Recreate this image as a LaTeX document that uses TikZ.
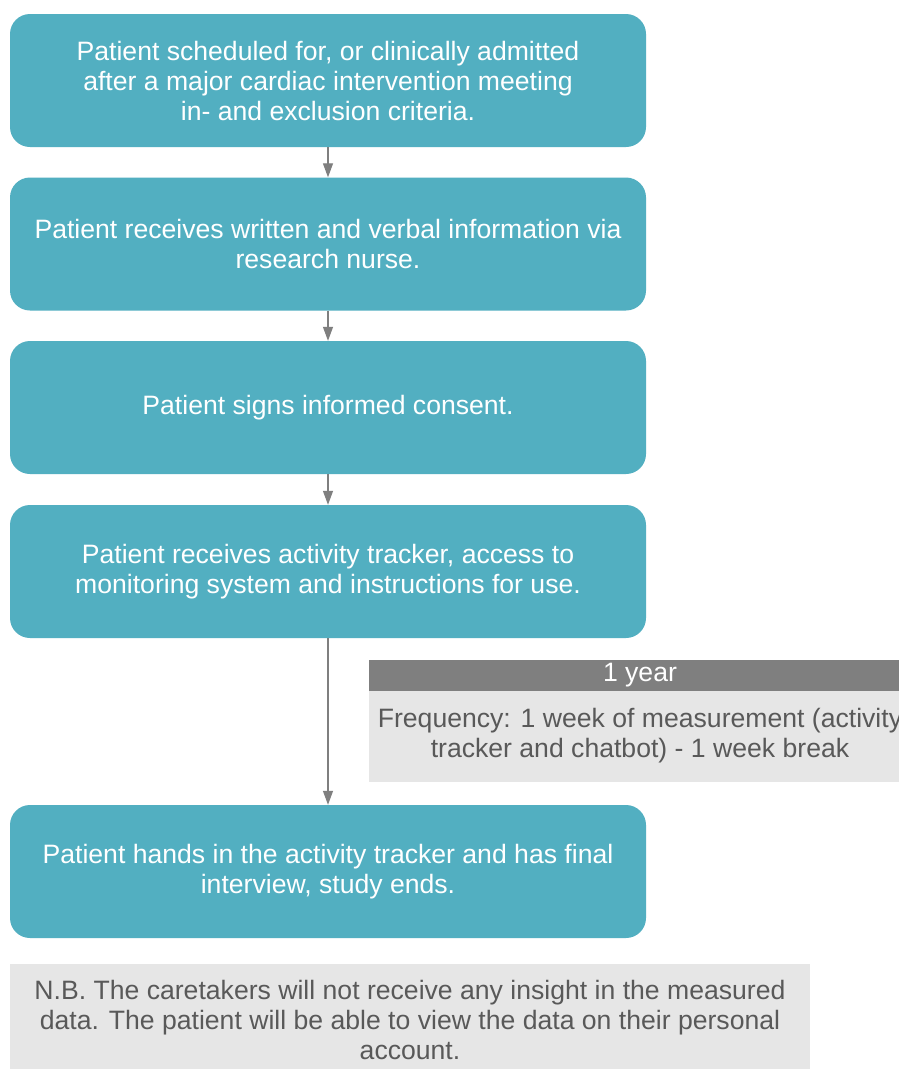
\documentclass[tikz,border=0pt]{standalone}
\usepackage{fontspec}
\setmainfont{Liberation Sans}
\usetikzlibrary{arrows.meta}
\definecolor{teal}{HTML}{52AFC1}
\definecolor{midgray}{HTML}{7F7F7F}
\definecolor{lightgray}{HTML}{E6E6E6}
\definecolor{textgray}{HTML}{595959}
\begin{document}
\begin{tikzpicture}[x=1pt,y=-1pt,
  stepbox/.style={rectangle, rounded corners=20pt, fill=teal, text=white,
    minimum width=636pt, minimum height=133pt, align=center, inner sep=0pt,
    font=\fontsize{26.6}{30}\selectfont},
  flow/.style={draw=midgray, line width=1.2pt, -{Triangle[length=14pt,width=10pt]}},
  note/.style={align=center, text=textgray, font=\fontsize{26.6}{30}\selectfont, inner sep=0pt}
]
\useasboundingbox (0,0) rectangle (899,1069);
\clip (0,0) rectangle (899,1069);
\fill[white] (0,0) rectangle (899,1069);

\node[stepbox] (s1) at (328,80.5) {Patient scheduled for, or clinically admitted\\after a major cardiac intervention meeting\\in- and exclusion criteria.};
\node[stepbox] (s2) at (328,244) {Patient receives written and verbal information via\\research nurse.};
\node[stepbox] (s3) at (328,407.5) {Patient signs informed consent.};
\node[stepbox] (s4) at (328,571.5) {Patient receives activity tracker, access to\\monitoring system and instructions for use.};
\node[stepbox] (s5) at (328,871.5) {Patient hands in the activity tracker and has final\\interview, study ends.};

\draw[flow] (s1) -- (s2);
\draw[flow] (s2) -- (s3);
\draw[flow] (s3) -- (s4);
\draw[flow] (s4) -- (s5);

% 1 year box
\fill[midgray] (369,660) rectangle (911,691);
\fill[lightgray] (369,691) rectangle (911,782);
\node[note, text=white] (yr) at (640,675) {1 year};
\node[note] (freq) at (640,736) {Frequency: 1 week of measurement (activity\\tracker and chatbot) - 1 week break};

% N.B. box
\fill[lightgray] (10,964) rectangle (810,1075);
\node[note] (nb) at (410,1020) {N.B. The caretakers will not receive any insight in the measured\\data. The patient will be able to view the data on their personal\\account.};
\end{tikzpicture}
\end{document}
